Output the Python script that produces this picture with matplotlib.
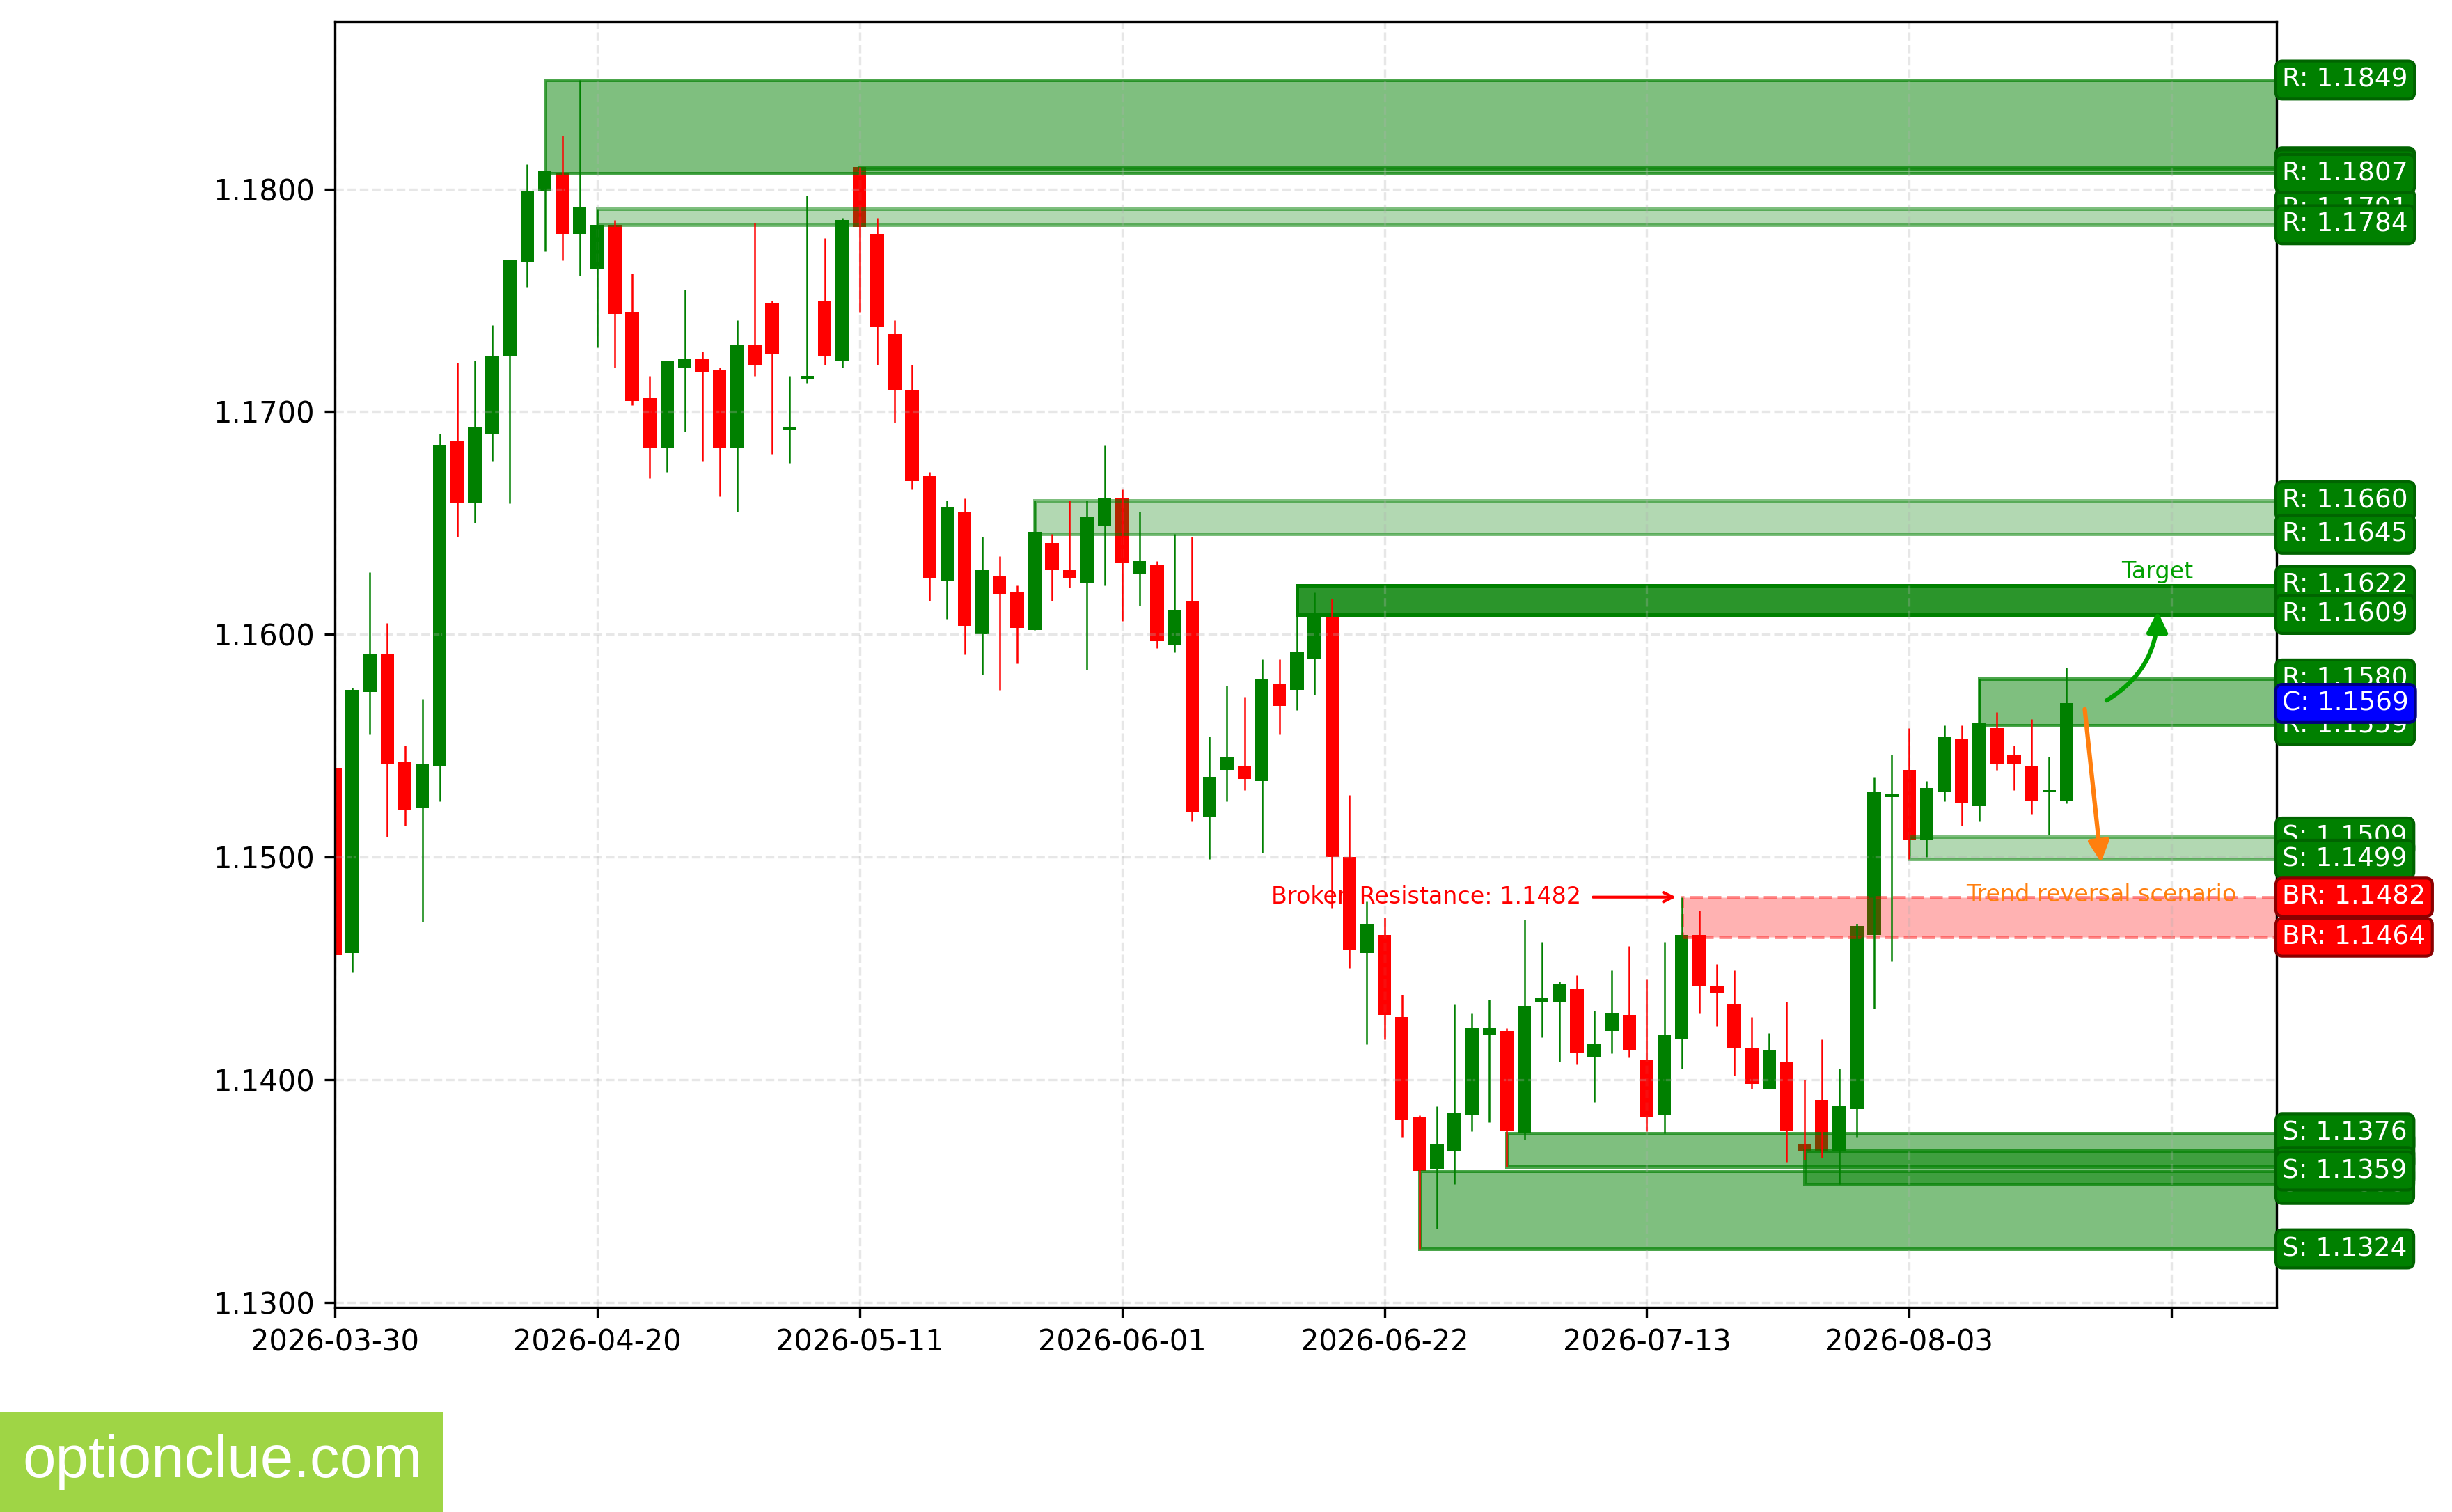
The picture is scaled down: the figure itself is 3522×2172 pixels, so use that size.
import numpy as np
import matplotlib
matplotlib.use("Agg")
import matplotlib.pyplot as plt
from matplotlib.patches import Rectangle

# ---------------- data ----------------
opens = [1.1540, 1.1457, 1.1574, 1.1591, 1.1543, 1.1522, 1.1541, 1.1687, 1.1659, 1.1690,
         1.1725, 1.1767, 1.1799, 1.1807, 1.1780, 1.1764, 1.1784, 1.1745, 1.1706, 1.1684,
         1.1720, 1.1724, 1.1719, 1.1684, 1.1730, 1.1749, 1.1692, 1.1715, 1.1750, 1.1723,
         1.1810, 1.1780, 1.1735, 1.1710, 1.1671, 1.1624, 1.1655, 1.1600, 1.1626, 1.1619,
         1.1602, 1.1641, 1.1629, 1.1623, 1.1649, 1.1661, 1.1627, 1.1631, 1.1595, 1.1615,
         1.1518, 1.1539, 1.1541, 1.1534, 1.1578, 1.1575, 1.1589, 1.1608, 1.1500, 1.1457,
         1.1465, 1.1428, 1.1383, 1.1360, 1.1368, 1.1384, 1.1420, 1.1422, 1.1376, 1.1435,
         1.1435, 1.1441, 1.1410, 1.1422, 1.1429, 1.1409, 1.1384, 1.1418, 1.1465, 1.1442,
         1.1434, 1.1414, 1.1396, 1.1408, 1.1371, 1.1391, 1.1368, 1.1387, 1.1465, 1.1527,
         1.1539, 1.1508, 1.1529, 1.1553, 1.1523, 1.1558, 1.1546, 1.1541, 1.1529, 1.1525]
highs = [1.1542, 1.1576, 1.1628, 1.1605, 1.1550, 1.1571, 1.1690, 1.1722, 1.1723, 1.1739,
         1.1768, 1.1811, 1.1808, 1.1824, 1.1849, 1.1791, 1.1786, 1.1762, 1.1716, 1.1723,
         1.1755, 1.1727, 1.1720, 1.1741, 1.1785, 1.1750, 1.1716, 1.1797, 1.1778, 1.1787,
         1.1810, 1.1787, 1.1741, 1.1721, 1.1673, 1.1660, 1.1661, 1.1644, 1.1635, 1.1622,
         1.1660, 1.1645, 1.1660, 1.1660, 1.1685, 1.1665, 1.1655, 1.1633, 1.1645, 1.1644,
         1.1554, 1.1577, 1.1572, 1.1589, 1.1589, 1.1622, 1.1619, 1.1616, 1.1528, 1.1480,
         1.1473, 1.1438, 1.1384, 1.1388, 1.1434, 1.1430, 1.1436, 1.1423, 1.1472, 1.1462,
         1.1444, 1.1447, 1.1431, 1.1449, 1.1460, 1.1445, 1.1462, 1.1482, 1.1476, 1.1452,
         1.1449, 1.1428, 1.1421, 1.1435, 1.1400, 1.1418, 1.1405, 1.1470, 1.1536, 1.1546,
         1.1558, 1.1534, 1.1559, 1.1559, 1.1580, 1.1565, 1.1550, 1.1562, 1.1545, 1.1585]
lows = [1.1452, 1.1448, 1.1555, 1.1509, 1.1514, 1.1471, 1.1525, 1.1644, 1.1650, 1.1678,
        1.1659, 1.1756, 1.1772, 1.1768, 1.1761, 1.1729, 1.1720, 1.1703, 1.1670, 1.1673,
        1.1691, 1.1678, 1.1662, 1.1655, 1.1716, 1.1681, 1.1677, 1.1713, 1.1721, 1.1720,
        1.1745, 1.1721, 1.1695, 1.1665, 1.1615, 1.1607, 1.1591, 1.1582, 1.1575, 1.1587,
        1.1602, 1.1615, 1.1621, 1.1584, 1.1622, 1.1606, 1.1613, 1.1594, 1.1592, 1.1516,
        1.1499, 1.1525, 1.1530, 1.1502, 1.1555, 1.1566, 1.1573, 1.1477, 1.1450, 1.1416,
        1.1418, 1.1374, 1.1324, 1.1333, 1.1353, 1.1377, 1.1381, 1.1361, 1.1373, 1.1419,
        1.1408, 1.1407, 1.1390, 1.1412, 1.1410, 1.1377, 1.1376, 1.1405, 1.1430, 1.1424,
        1.1402, 1.1396, 1.1396, 1.1363, 1.1364, 1.1365, 1.1353, 1.1374, 1.1432, 1.1453,
        1.1499, 1.1500, 1.1525, 1.1514, 1.1516, 1.1539, 1.1530, 1.1519, 1.1510, 1.1524]
closes = [1.1456, 1.1575, 1.1591, 1.1542, 1.1521, 1.1542, 1.1685, 1.1659, 1.1693, 1.1725,
          1.1768, 1.1799, 1.1808, 1.1780, 1.1792, 1.1784, 1.1744, 1.1705, 1.1684, 1.1723,
          1.1724, 1.1718, 1.1684, 1.1730, 1.1721, 1.1726, 1.1693, 1.1716, 1.1725, 1.1786,
          1.1783, 1.1738, 1.1710, 1.1669, 1.1625, 1.1657, 1.1604, 1.1629, 1.1618, 1.1603,
          1.1646, 1.1629, 1.1625, 1.1653, 1.1661, 1.1632, 1.1633, 1.1597, 1.1611, 1.1520,
          1.1536, 1.1545, 1.1535, 1.1580, 1.1568, 1.1592, 1.1609, 1.1500, 1.1458, 1.1470,
          1.1429, 1.1382, 1.1359, 1.1371, 1.1385, 1.1423, 1.1423, 1.1377, 1.1433, 1.1437,
          1.1443, 1.1412, 1.1416, 1.1430, 1.1413, 1.1383, 1.1420, 1.1465, 1.1442, 1.1439,
          1.1414, 1.1398, 1.1413, 1.1377, 1.1368, 1.1368, 1.1388, 1.1469, 1.1529, 1.1528,
          1.1508, 1.1531, 1.1554, 1.1524, 1.1560, 1.1542, 1.1542, 1.1525, 1.1530, 1.1569]

tick_index = [0, 15, 30, 45, 60, 75, 90, 105]
tick_labels = ['2026-03-30', '2026-04-20', '2026-05-11', '2026-06-01',
               '2026-06-22', '2026-07-13', '2026-08-03', '']

# zones (drawn newest first)
zone_kind = ['R', 'S', 'S', 'BR', 'S', 'S', 'R', 'R', 'R', 'R', 'R']
zone_start = [94, 90, 84, 77, 67, 62, 55, 40, 30, 15, 12]
zone_top = [1.1580, 1.1509, 1.1368, 1.1482, 1.1376, 1.1359, 1.1622, 1.1660, 1.1810, 1.1791, 1.1849]
zone_bottom = [1.1559, 1.1499, 1.1353, 1.1464, 1.1361, 1.1324, 1.1609, 1.1645, 1.1809, 1.1784, 1.1807]
zone_alpha = [0.5, 0.3, 0.5, 0.3, 0.5, 0.5, 0.83, 0.3, 0.5, 0.3, 0.5]

current_price = 1.1569
broken_level = 1.1482
target_level = 1.1609
reversal_level = 1.1495

# ---------------- figure ----------------
W, H, DPI = 3522, 2172, 300
fig = plt.figure(figsize=(W / DPI, H / DPI), dpi=DPI)
ax = fig.add_axes([481 / W, (H - 1878) / H, (3270 - 481) / W, (1878 - 31) / H])

o = np.array(opens); h = np.array(highs); l = np.array(lows); c = np.array(closes)
idx = np.arange(len(o))
cols = np.where(c >= o, 'green', 'red')

ax.vlines(idx, l, h, colors=cols, linewidth=0.6, zorder=2)
body_low = np.minimum(o, c)
body_h = np.maximum(np.abs(c - o), 0.00012)
ax.bar(idx, body_h, bottom=body_low, width=0.77, color=cols, linewidth=0, zorder=1)

x_right = 111
rng = h.max() - l.min()
ax.set_xlim(0, x_right)
ax.set_ylim(l.min() - 0.05 * rng, h.max() + 0.05 * rng)

green = (0, 128 / 255, 0)
for kind, s, top, bot, a in zip(zone_kind, zone_start, zone_top, zone_bottom, zone_alpha):
    if kind == 'BR':
        rect = Rectangle((s, bot), x_right + 5 - s, top - bot,
                         facecolor=(1, 0, 0, a), edgecolor=(1, 0, 0, 0.4),
                         linewidth=1.2, linestyle='--', zorder=1)
    else:
        rect = Rectangle((s, bot), x_right + 5 - s, top - bot,
                         facecolor=green + (a,), edgecolor=green + (min(1, a + 0.2),),
                         linewidth=1.2, zorder=1)
    ax.add_patch(rect)

ytf = ax.get_yaxis_transform()
for kind, top, bot in zip(zone_kind, zone_top, zone_bottom):
    fc, ec = ('red', 'darkred') if kind == 'BR' else ('green', 'darkgreen')
    for p in (top, bot):
        ax.text(1.003, p, f"{kind}: {p:.4f}", transform=ytf, ha='left', va='center',
                fontsize=9, color='white', clip_on=False, zorder=5,
                bbox=dict(boxstyle='round,pad=0.25', fc=fc, ec=ec, lw=1.0))
ax.text(1.003, current_price, f"C: {current_price:.4f}", transform=ytf, ha='left',
        va='center', fontsize=9, color='white', clip_on=False, zorder=6,
        bbox=dict(boxstyle='round,pad=0.25', fc='blue', ec='navy', lw=1.0))

# annotations
ax.annotate(f"Broken Resistance: {broken_level:.4f}", xy=(77, broken_level),
            xytext=(62.4, broken_level), color='red', fontsize=8, ha='center', va='center',
            arrowprops=dict(arrowstyle='->', color='red', lw=1.0), zorder=4)
last = len(o) - 1
ax.annotate('', xy=(last + 2, reversal_level), xytext=(last + 1, current_price),
            arrowprops=dict(arrowstyle='-|>', color='#ff7f0e', lw=1.5, mutation_scale=15),
            zorder=4)
ax.text(last + 2, broken_level + 0.0001, 'Trend reversal scenario', color='#ff7f0e',
        fontsize=8, ha='center', va='center', zorder=4)
ax.annotate('', xy=(last + 5.2, target_level + 0.0004), xytext=(last + 2, current_price),
            arrowprops=dict(arrowstyle='-|>', color='#00a000', lw=1.5, mutation_scale=15,
                            connectionstyle='arc3,rad=0.3'), zorder=4)
ax.text(last + 5.2, 1.1628, 'Target', color='#00a000', fontsize=8, ha='center',
        va='center', zorder=4)

# axes
ax.set_xticks(tick_index)
ax.set_xticklabels(tick_labels, fontsize=10)
yt = [1.13, 1.14, 1.15, 1.16, 1.17, 1.18]
ax.set_yticks(yt)
ax.set_yticklabels([f"{v:.4f}" for v in yt], fontsize=10)
ax.grid(True, linestyle='--', alpha=0.3)

# watermark
fig.patches.append(Rectangle((0, 0), 636 / W, 144 / H, transform=fig.transFigure,
                             facecolor='#9fd545', edgecolor='none', zorder=0))
fig.text(32 / W, 50 / H, 'optionclue.com', color='white', fontsize=20.5,
         family='Liberation Sans', ha='left', va='baseline')

fig.savefig('out.png', dpi=DPI)
